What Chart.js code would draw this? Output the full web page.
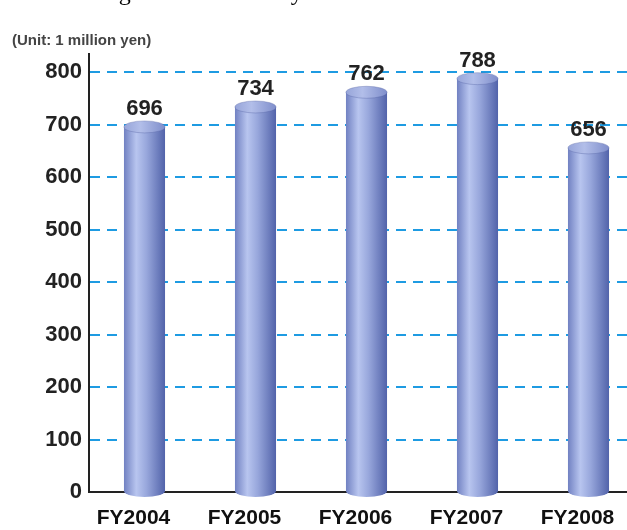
<!DOCTYPE html>
<html>
<head>
<meta charset="utf-8">
<script src="https://cdn.jsdelivr.net/npm/chart.js@4/dist/chart.umd.min.js"></script>
<style>
html, body { margin: 0; padding: 0; background: #fff; overflow: hidden; }
</style>
</head>
<body>
<canvas id="myChart" width="644" height="530"></canvas>
<script>
// data
const years = ["FY2004", "FY2005", "FY2006", "FY2007", "FY2008"];
const values = [696, 734, 762, 788, 656];
const yTicks = [0, 100, 200, 300, 400, 500, 600, 700, 800];
const unitLabel = "(Unit: 1 million yen)";
const headingText = "Changes in Net Sales by Fiscal Year";

const FONT = 'Arial, "Liberation Sans", sans-serif';
const BAR_PCT = 0.37;

function bodyGradient(ctx, x, r) {
    const g = ctx.createLinearGradient(x - r, 0, x + r, 0);
    g.addColorStop(0, "#7181c2");
    g.addColorStop(0.3, "#b8c5ef");
    g.addColorStop(0.55, "#98a7dc");
    g.addColorStop(1, "#5263aa");
    return g;
}

const cylinders = {
    id: "cylinders",
    beforeDraw(chart) {
        const ctx = chart.ctx;
        ctx.save();
        ctx.fillStyle = "#000";
        ctx.font = "24px 'Liberation Serif', 'DejaVu Serif', serif";
        ctx.textBaseline = "alphabetic";
        ctx.fillText(headingText, 68, 0);
        ctx.fillStyle = "#444";
        ctx.font = "bold 15px " + FONT;
        ctx.textBaseline = "middle";
        ctx.fillText(unitLabel, 12, 41);
        ctx.restore();
    },
    afterDatasetsDraw(chart) {
        const ctx = chart.ctx;
        const meta = chart.getDatasetMeta(0);
        meta.data.forEach((bar, i) => {
            const r = bar.width / 2;
            const ry = 6;
            ctx.save();
            // bottom cap
            ctx.fillStyle = bodyGradient(ctx, bar.x, r);
            ctx.beginPath();
            ctx.ellipse(bar.x, bar.base, r, ry, 0, 0, Math.PI);
            ctx.fill();
            // top cap
            const tg = ctx.createLinearGradient(bar.x - r, 0, bar.x + r, 0);
            tg.addColorStop(0, "#97a5d9");
            tg.addColorStop(0.4, "#b2bee9");
            tg.addColorStop(1, "#7f8ecb");
            ctx.fillStyle = tg;
            ctx.beginPath();
            ctx.ellipse(bar.x, bar.y, r, ry, 0, 0, Math.PI * 2);
            ctx.fill();
            ctx.strokeStyle = "rgba(80,95,160,0.35)";
            ctx.lineWidth = 1;
            ctx.stroke();
            // value label
            ctx.fillStyle = "#222";
            ctx.font = "bold 22px " + FONT;
            ctx.textAlign = "center";
            ctx.textBaseline = "alphabetic";
            ctx.fillText(String(values[i]), bar.x, bar.y - 12);
            ctx.restore();
        });
    }
};

new Chart(document.getElementById("myChart"), {
    type: "bar",
    data: {
        labels: years,
        datasets: [{
            data: values,
            barPercentage: BAR_PCT,
            categoryPercentage: 1,
            borderWidth: 0,
            backgroundColor(c) {
                const chart = c.chart;
                if (!chart.chartArea) return "#8d9bd3";
                const x = chart.scales.x.getPixelForValue(c.dataIndex);
                const r = chart.scales.x.width / years.length * BAR_PCT / 2;
                return bodyGradient(chart.ctx, x, r);
            }
        }]
    },
    options: {
        responsive: false,
        maintainAspectRatio: false,
        animation: false,
        layout: { padding: { top: 54, right: 0, left: 0, bottom: 0 } },
        plugins: {
            legend: { display: false },
            tooltip: { enabled: false }
        },
        scales: {
            x: {
                grid: { display: false, drawTicks: false },
                border: { display: true, color: "#222", width: 2 },
                ticks: {
                    color: "#111",
                    font: { family: FONT, size: 21, weight: "bold" },
                    padding: 14,
                    labelOffset: -11,
                    maxRotation: 0
                },
                afterFit(scale) { scale.height = 38; }
            },
            y: {
                min: 0,
                max: 835,
                afterBuildTicks(scale) {
                    scale.ticks = yTicks.map(v => ({ value: v }));
                },
                grid: {
                    color: c => (c.tick && c.tick.value === 0) ? "rgba(0,0,0,0)" : "#1e9be2",
                    lineWidth: 2,
                    drawTicks: false
                },
                border: { display: true, color: "#222", width: 2, dash: [10, 7] },
                ticks: {
                    color: "#222",
                    font: { family: FONT, size: 22, weight: "bold" },
                    padding: 7
                },
                afterFit(scale) { scale.width = 89; }
            }
        }
    },
    plugins: [cylinders]
});
</script>
</body>
</html>
